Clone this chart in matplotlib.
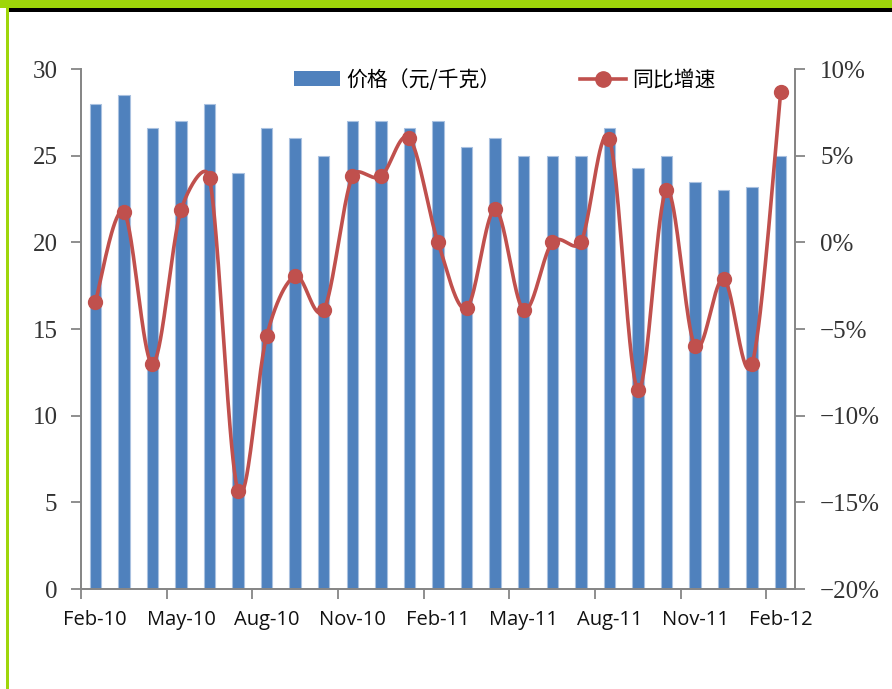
import numpy as np
import matplotlib
matplotlib.use("Agg")
import matplotlib.pyplot as plt
from matplotlib.lines import Line2D
from matplotlib.patches import Patch, Rectangle

months = ["Feb-10", "Mar-10", "Apr-10", "May-10", "Jun-10", "Jul-10", "Aug-10", "Sep-10",
          "Oct-10", "Nov-10", "Dec-10", "Jan-11", "Feb-11", "Mar-11", "Apr-11", "May-11",
          "Jun-11", "Jul-11", "Aug-11", "Sep-11", "Oct-11", "Nov-11", "Dec-11", "Jan-12", "Feb-12"]
price = [28.0, 28.5, 26.6, 27.0, 28.0, 24.0, 26.6, 26.0, 25.0, 27.0, 27.0, 26.6, 27.0,
         25.5, 26.0, 25.0, 25.0, 25.0, 26.6, 24.3, 25.0, 23.5, 23.0, 23.2, 25.0]
yoy = [-3.45, 1.75, -7.0, 1.85, 3.7, -14.35, -5.4, -1.95, -3.9, 3.8, 3.8, 6.0, 0.0,
       -3.8, 1.9, -3.9, 0.0, 0.0, 5.95, -8.5, 3.0, -6.0, -2.1, -7.0, 8.65]
xtick_labels = ["Feb-10", "May-10", "Aug-10", "Nov-10", "Feb-11", "May-11", "Aug-11", "Nov-11", "Feb-12"]
left_ticks = [0, 5, 10, 15, 20, 25, 30]
right_ticks = [-20, -15, -10, -5, 0, 5, 10]
legend_labels = ["价格（元/千克）", "同比增速"]

W, H = 892, 689
fig = plt.figure(figsize=(W / 100, H / 100), dpi=100)

# decorative frame
fig.patches.append(Rectangle((0, 1 - 8 / H), 1, 8 / H, transform=fig.transFigure,
                             facecolor="#9ED60A", edgecolor="none", zorder=0))
fig.patches.append(Rectangle((8 / W, 1 - 11.5 / H), 1, 3.5 / H, transform=fig.transFigure,
                             facecolor="#000000", edgecolor="none", zorder=0))
fig.patches.append(Rectangle((6 / W, 0), 2.5 / W, 1 - 8 / H, transform=fig.transFigure,
                             facecolor="#9ED60A", edgecolor="none", zorder=0))

left, right, bottom, top = 81 / W, 795 / W, 1 - 589 / H, 1 - 69 / H
ax = fig.add_axes([left, bottom, right - left, top - bottom])
ax2 = ax.twinx()

x = np.arange(len(price))
ax.bar(x, price, width=0.4, color="#4F81BD", edgecolor="#A9C1E0", linewidth=0.8, zorder=2)
ax.set_xlim(-0.5, len(price) - 0.5)
ax.set_ylim(0, 30)
ax2.set_ylim(-20, 10)

# Excel-style smoothed line: Bezier with arm length limited (computed in display space)
fig.canvas.draw()
disp = ax2.transData.transform(np.column_stack([x, yoy]))
n = len(disp)
t = np.linspace(0, 1, 40)
pts = []
for i in range(n - 1):
    p0 = disp[max(i - 1, 0)]
    p1 = disp[i]
    p2 = disp[i + 1]
    p3 = disp[min(i + 2, n - 1)]
    d12 = np.linalg.norm(p2 - p1)
    a1 = (p2 - p0) / 6
    a2 = (p3 - p1) / 6
    if np.linalg.norm(a1) > d12 / 2:
        a1 = a1 / np.linalg.norm(a1) * d12 / 2
    if np.linalg.norm(a2) > d12 / 2:
        a2 = a2 / np.linalg.norm(a2) * d12 / 2
    c1 = p1 + a1
    c2 = p2 - a2
    b = ((1 - t) ** 3)[:, None] * p1 + (3 * (1 - t) ** 2 * t)[:, None] * c1 + \
        (3 * (1 - t) * t ** 2)[:, None] * c2 + (t ** 3)[:, None] * p2
    pts.append(b)
curve = ax2.transData.inverted().transform(np.vstack(pts))
red = "#C0504D"
ax2.plot(curve[:, 0], curve[:, 1], color=red, linewidth=2.6, zorder=3, solid_capstyle="round")
ax2.plot(x, yoy, linestyle="none", marker="o", markersize=10, color=red, zorder=4)

spine_c = "#868686"
for a in (ax, ax2):
    a.spines["top"].set_visible(False)
    for s in ("left", "right", "bottom"):
        a.spines[s].set_color(spine_c)
        a.spines[s].set_linewidth(1.3)

serif = "Liberation Serif"
ax.set_yticks(left_ticks)
ax.set_yticklabels([str(v) for v in left_ticks], fontfamily=serif, fontsize=18, color="#333333")
ax.tick_params(axis="y", direction="out", length=7, width=1.3, color=spine_c, pad=10)

ax2.set_yticks(right_ticks)
ax2.set_yticklabels([(f"\u2212{abs(v)}%" if v < 0 else f"{v}%") for v in right_ticks],
                    fontfamily=serif, fontsize=18, color="#333333")
ax2.tick_params(axis="y", direction="out", length=7, width=1.3, color=spine_c, pad=11)

ax.set_xticks(np.arange(-0.5, len(price) - 1, 3))
ax.set_xticklabels([])
ax.tick_params(axis="x", which="major", direction="out", length=7, width=1.3, color=spine_c)
ax.set_xticks(np.arange(0, len(price), 3), minor=True)
ax.set_xticklabels(xtick_labels, minor=True, fontfamily="Open Sans", fontsize=14.5, color="#111111")
ax.tick_params(axis="x", which="minor", length=0, pad=15)

handles = [Patch(facecolor="#4F81BD", edgecolor="none"),
           Line2D([], [], color=red, linewidth=2.6, marker="o", markersize=11)]
fig.legend(handles, legend_labels, loc="center", bbox_to_anchor=(505 / W, 1 - 80 / H),
           ncol=2, frameon=False, handlelength=2.2, handleheight=0.7, handletextpad=0.3,
           columnspacing=3.8, prop={"family": ["Noto Sans CJK SC", "DejaVu Sans"], "size": 15})

fig.savefig("out.png", dpi=100)
